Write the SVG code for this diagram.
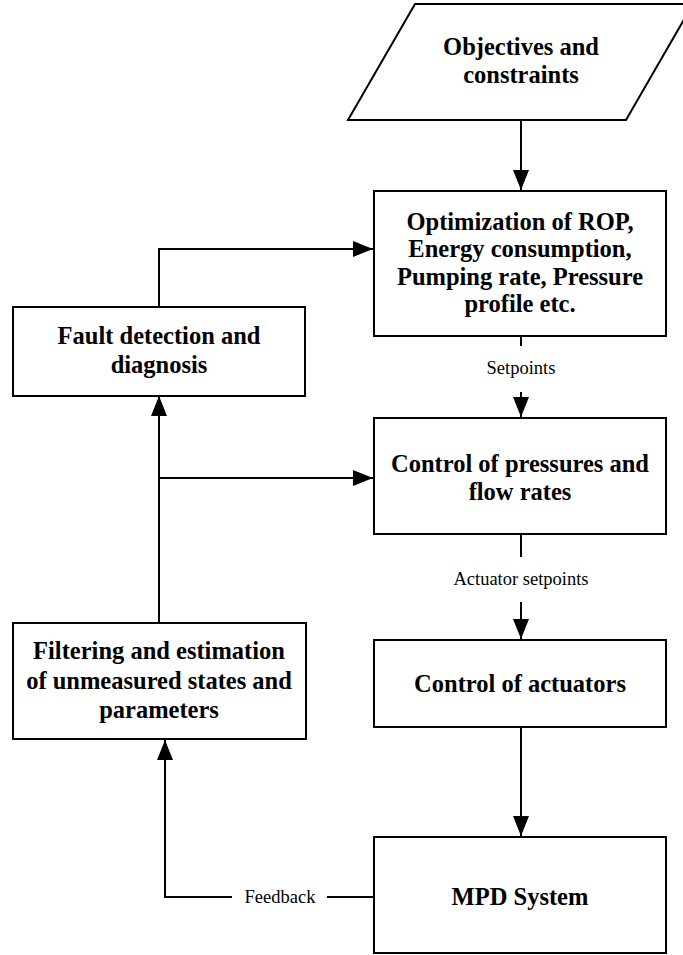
<svg xmlns="http://www.w3.org/2000/svg" width="683" height="955" viewBox="0 0 683 955">
<style>
.box{fill:#fff;stroke:#000;stroke-width:2}
.t{font-family:"Liberation Serif","Times New Roman",serif;font-weight:bold;font-size:24.5px;text-anchor:middle;fill:#000}
.l{font-family:"Liberation Serif","Times New Roman",serif;font-size:18.5px;text-anchor:middle;fill:#000}
.c{fill:none;stroke:#000;stroke-width:2}
</style>
<defs>
<marker id="ah" markerUnits="userSpaceOnUse" markerWidth="20" markerHeight="16" viewBox="0 0 20 16" refX="20" refY="8" orient="auto">
<path d="M0,0 L20,8 L0,16 Z" fill="#000"/>
</marker>
</defs>
<rect width="683" height="955" fill="#fff"/>
<g id="connectors">
<path class="c" d="M521,120 L521,190" marker-end="url(#ah)"/>
<path class="c" d="M521,336 L521,346"/>
<path class="c" d="M521,392 L521,417" marker-end="url(#ah)"/>
<path class="c" d="M521,534 L521,557"/>
<path class="c" d="M521,602 L521,639" marker-end="url(#ah)"/>
<path class="c" d="M521,727 L521,836" marker-end="url(#ah)"/>
<path class="c" d="M159,307 L159,249 L373,249" marker-end="url(#ah)"/>
<path class="c" d="M159,623 L159,396" marker-end="url(#ah)"/>
<path class="c" d="M159,478 L373,478" marker-end="url(#ah)"/>
<path class="c" d="M374,897 L327,897"/>
<path class="c" d="M232,897 L165,897 L165,740" marker-end="url(#ah)"/>
<text class="l" x="521" y="374">Setpoints</text>
<text class="l" x="521" y="585">Actuator setpoints</text>
<text class="l" x="280" y="903">Feedback</text>
</g>
<g id="objectives">
<polygon class="box" points="415,4 693,4 626,120 348,120"/>
<text class="t" x="521" y="55">Objectives and</text>
<text class="t" x="521" y="83">constraints</text>
</g>
<g id="optimization">
<rect class="box" x="374" y="191" width="292" height="145"/>
<text class="t" x="520" y="230">Optimization of ROP,</text>
<text class="t" x="520" y="257">Energy consumption,</text>
<text class="t" x="520" y="285">Pumping rate, Pressure</text>
<text class="t" x="520" y="312">profile etc.</text>
</g>
<g id="control-pressures">
<rect class="box" x="374" y="418" width="292" height="116"/>
<text class="t" x="520" y="472">Control of pressures and</text>
<text class="t" x="520" y="500">flow rates</text>
</g>
<g id="control-actuators">
<rect class="box" x="374" y="640" width="292" height="87"/>
<text class="t" x="520" y="692">Control of actuators</text>
</g>
<g id="mpd">
<rect class="box" x="374" y="837" width="292" height="116"/>
<text class="t" x="520" y="905">MPD System</text>
</g>
<g id="fault">
<rect class="box" x="13" y="307" width="292" height="89"/>
<text class="t" x="159" y="344">Fault detection and</text>
<text class="t" x="159" y="373">diagnosis</text>
</g>
<g id="filtering">
<rect class="box" x="13" y="623" width="293" height="116"/>
<text class="t" x="159" y="659">Filtering and estimation</text>
<text class="t" x="159" y="689">of unmeasured states and</text>
<text class="t" x="159" y="718">parameters</text>
</g>
</svg>
